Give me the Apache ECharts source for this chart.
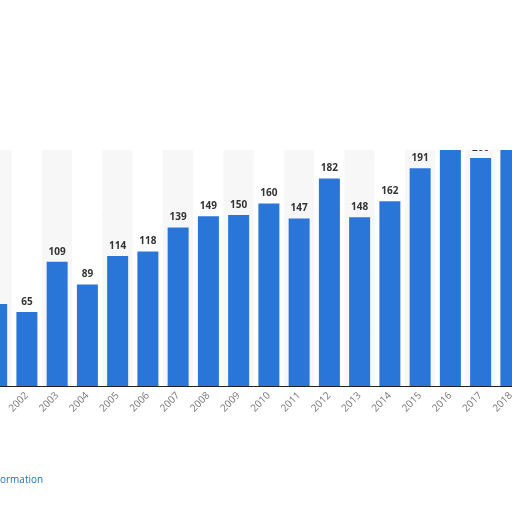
<!DOCTYPE html><html><head><meta charset="utf-8"><script src="https://cdn.jsdelivr.net/npm/echarts@6/dist/echarts.min.js"></script><style>body{margin:0;overflow:hidden;width:512px;height:512px;position:relative}#c{position:absolute;left:-25px;top:0;width:551px;height:512px}#m{position:absolute;left:0;top:0;width:512px;height:150px;background:#fff}#t{position:absolute;left:0;top:472px;font:10px 'Open Sans';color:#1a73c8}</style></head><body><div id="c"></div><div id="m"></div><div id="t">ormation</div><script>
const years=['2001','2002','2003','2004','2005','2006','2007','2008','2009','2010','2011','2012','2013','2014','2015','2016','2017','2018'];
const values=[72,65,109,89,114,118,139,149,150,160,147,182,148,162,191,207,200,210];
const hiddenLabels=['2001','2016','2018'];
const c=echarts.init(document.getElementById('c'));
c.setOption({backgroundColor:'#fff',animation:false,
grid:{left:0,right:0,top:101,bottom:126},
xAxis:{type:'category',data:years,axisTick:{show:false},axisLine:{lineStyle:{color:'#222'}},
 axisLabel:{rotate:45,color:'#777',fontSize:10,fontFamily:'Open Sans',margin:8},
 splitArea:{show:true,areaStyle:{color:['#f7f7f7','#ffffff']}}},
yAxis:{type:'value',min:0,max:250,interval:50,axisLabel:{show:false},axisLine:{show:false},axisTick:{show:false},
 splitLine:{lineStyle:{color:'#c8c8c8',type:[2,2],width:1}}},
series:[{type:'bar',barWidth:21,itemStyle:{color:'#2a75d8'},
 data:values.map((v,i)=>({value:v,label:{show:!hiddenLabels.includes(years[i])}})),
 label:{position:'top',color:'#333',fontWeight:'bold',fontSize:10,fontFamily:'Open Sans'}}]
});
</script></body></html>
